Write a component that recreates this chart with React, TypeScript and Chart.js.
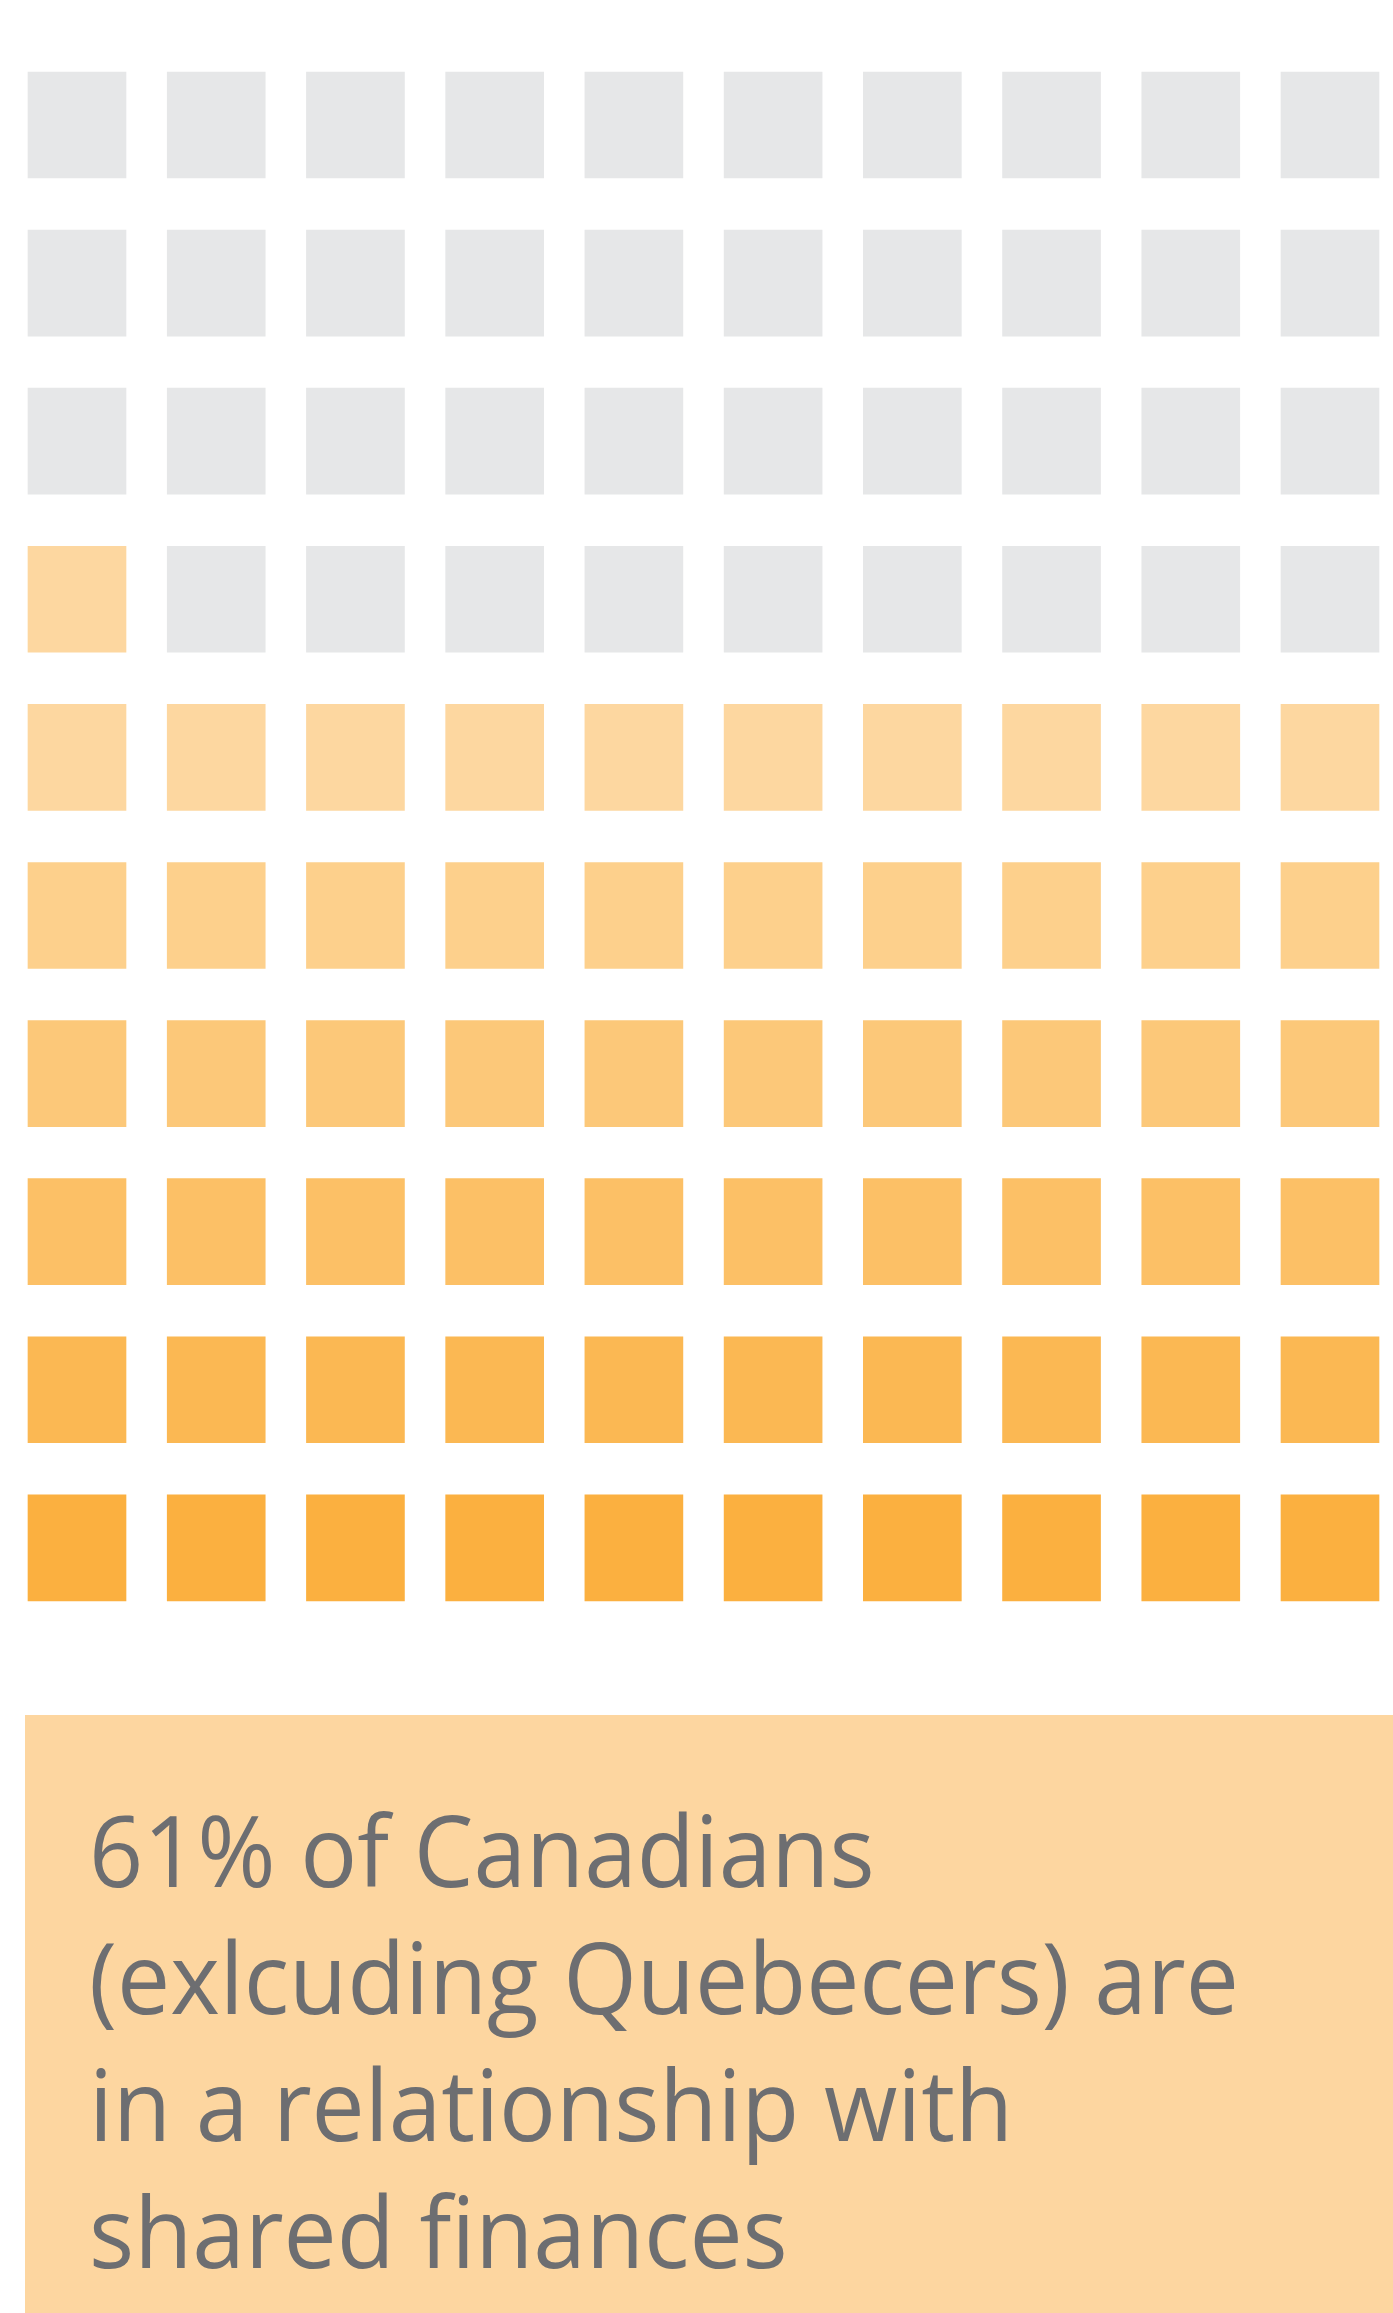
import React, { useEffect, useRef } from "react";
import { Chart, registerables } from "chart.js";

Chart.register(...registerables);

// ---- data ----
const FILLED_PERCENT = 61;
const COLUMN_LABELS = ["1", "2", "3", "4", "5", "6", "7", "8", "9", "10"];
const ROW_LABELS = ["1", "2", "3", "4", "5", "6", "7", "8", "9", "10"]; // top to bottom
const ROW_COLORS = [
  "#FDD7A0",
  "#FDD7A0",
  "#FDD7A0",
  "#FDD7A0",
  "#FDD7A0",
  "#FDD08C",
  "#FCC879",
  "#FCC066",
  "#FBB853",
  "#FBB040",
];
const EMPTY_COLOR = "#E6E7E8";
const CAPTION_LINES = [
  "61% of Canadians",
  "(exlcuding Quebecers) are",
  "in a relationship with",
  "shared finances",
];

// ---- layout constants ----
const PAGE_W = 1393;
const PAGE_H = 2313;
const CANVAS_H = 1700;
const CELL_FRACTION = 106 / 158.11;

export default function App() {
  const canvasRef = useRef<HTMLCanvasElement | null>(null);

  useEffect(() => {
    if (!canvasRef.current) return;
    const nRows = ROW_LABELS.length;
    const nCols = COLUMN_LABELS.length;
    const datasets = ROW_LABELS.map((rowLabel, r) => {
      const data = COLUMN_LABELS.map(() => [r, r + CELL_FRACTION]);
      const colors = COLUMN_LABELS.map((_, c) => {
        const k = (nRows - 1 - r) * nCols + c; // fill bottom-up, left to right
        return k < FILLED_PERCENT ? ROW_COLORS[r] : EMPTY_COLOR;
      });
      return {
        label: "Row " + rowLabel,
        data,
        backgroundColor: colors,
        borderWidth: 0,
        barThickness: 98,
        grouped: false,
        clip: false as any,
      };
    });

    const chart = new Chart(canvasRef.current, {
      type: "bar",
      data: { labels: COLUMN_LABELS, datasets: datasets as any },
      options: {
        animation: false,
        responsive: false,
        maintainAspectRatio: false,
        layout: { padding: { left: 77, right: PAGE_W - 1330, top: 72, bottom: CANVAS_H - 1653 } },
        plugins: { legend: { display: false }, tooltip: { enabled: false }, title: { display: false } },
        scales: {
          x: { type: "category", offset: false, display: false, grid: { display: false } },
          y: { type: "linear", min: 0, max: nRows, reverse: true, display: false, grid: { display: false } },
        },
      },
    });
    return () => chart.destroy();
  }, []);

  return (
    <div
      style={{
        position: "absolute",
        left: 0,
        top: 0,
        width: PAGE_W,
        height: PAGE_H,
        overflow: "hidden",
        background: "#ffffff",
      }}
    >
      <canvas
        ref={canvasRef}
        width={PAGE_W}
        height={CANVAS_H}
        style={{ position: "absolute", left: 0, top: 0, width: PAGE_W, height: CANVAS_H }}
      />
      <div
        style={{
          position: "absolute",
          left: 25,
          top: 1715,
          right: 0,
          bottom: 0,
          background: "#FDD6A0",
        }}
      >
        <div
          style={{
            position: "absolute",
            left: 64,
            top: 70,
            whiteSpace: "nowrap",
            fontFamily: "'Open Sans', 'Noto Sans', sans-serif",
            fontSize: 99,
            lineHeight: "127px",
            color: "#6D6E71",
            transform: "scaleX(0.957)",
            transformOrigin: "left top",
          }}
        >
          {CAPTION_LINES.map((line, i) => (
            <div key={i}>{line}</div>
          ))}
        </div>
      </div>
    </div>
  );
}
